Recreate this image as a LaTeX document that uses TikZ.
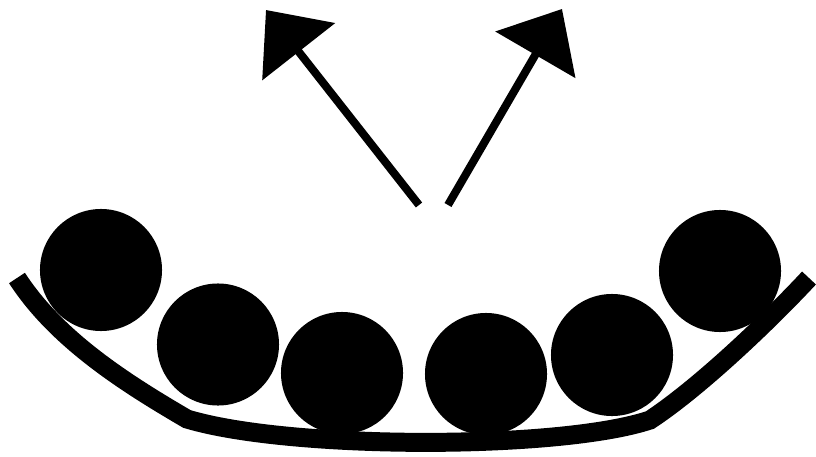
\documentclass[tikz,border=0pt]{standalone}
\usepackage{xcolor}
\usepackage{tikz}
\usetikzlibrary{arrows.meta}
\tikzset{
  ball/.style={
    circle,
    fill=black,
    inner sep=0pt,
    minimum size=3.05cm
  },
  bowl/.style={draw=black,line width=13.5pt},
  arrow/.style={-{Triangle[length=1.325cm,width=2.275cm]},draw=black,line width=5.7pt}
}

\begin{document}
\begin{tikzpicture}[x=0.025cm,y=0.025cm]
  \useasboundingbox (0,0) rectangle (816,456);

  % The curved dish under the balls.
  \coordinate (d0) at (17,178);
  \coordinate (d1) at (187,37);
  \coordinate (d2) at (650,36);
  \coordinate (d3) at (809,178);
  \draw[bowl] (d0) .. controls (57,116) and (127,72) .. (d1)
                   .. controls (290,6) and (560,6) .. (d2)
                   .. controls (700,69) and (769,135) .. (d3);

  % Six balls resting in the dish.
  \node[ball] (b1) at (101,186) {};
  \node[ball] (b2) at (218,111.5) {};
  \node[ball] (b3) at (342,83) {};
  \node[ball] (b4) at (486,82) {};
  \node[ball] (b5) at (612,101) {};
  \node[ball] (b6) at (720,185) {};

  % Two arrows pointing outwards.
  \coordinate (l0) at (419,251);
  \coordinate (l1) at (266,446);
  \coordinate (r0) at (448,251);
  \coordinate (r1) at (562,447);
  \draw[arrow] (l0) -- (l1);
  \draw[arrow] (r0) -- (r1);
\end{tikzpicture}
\end{document}
